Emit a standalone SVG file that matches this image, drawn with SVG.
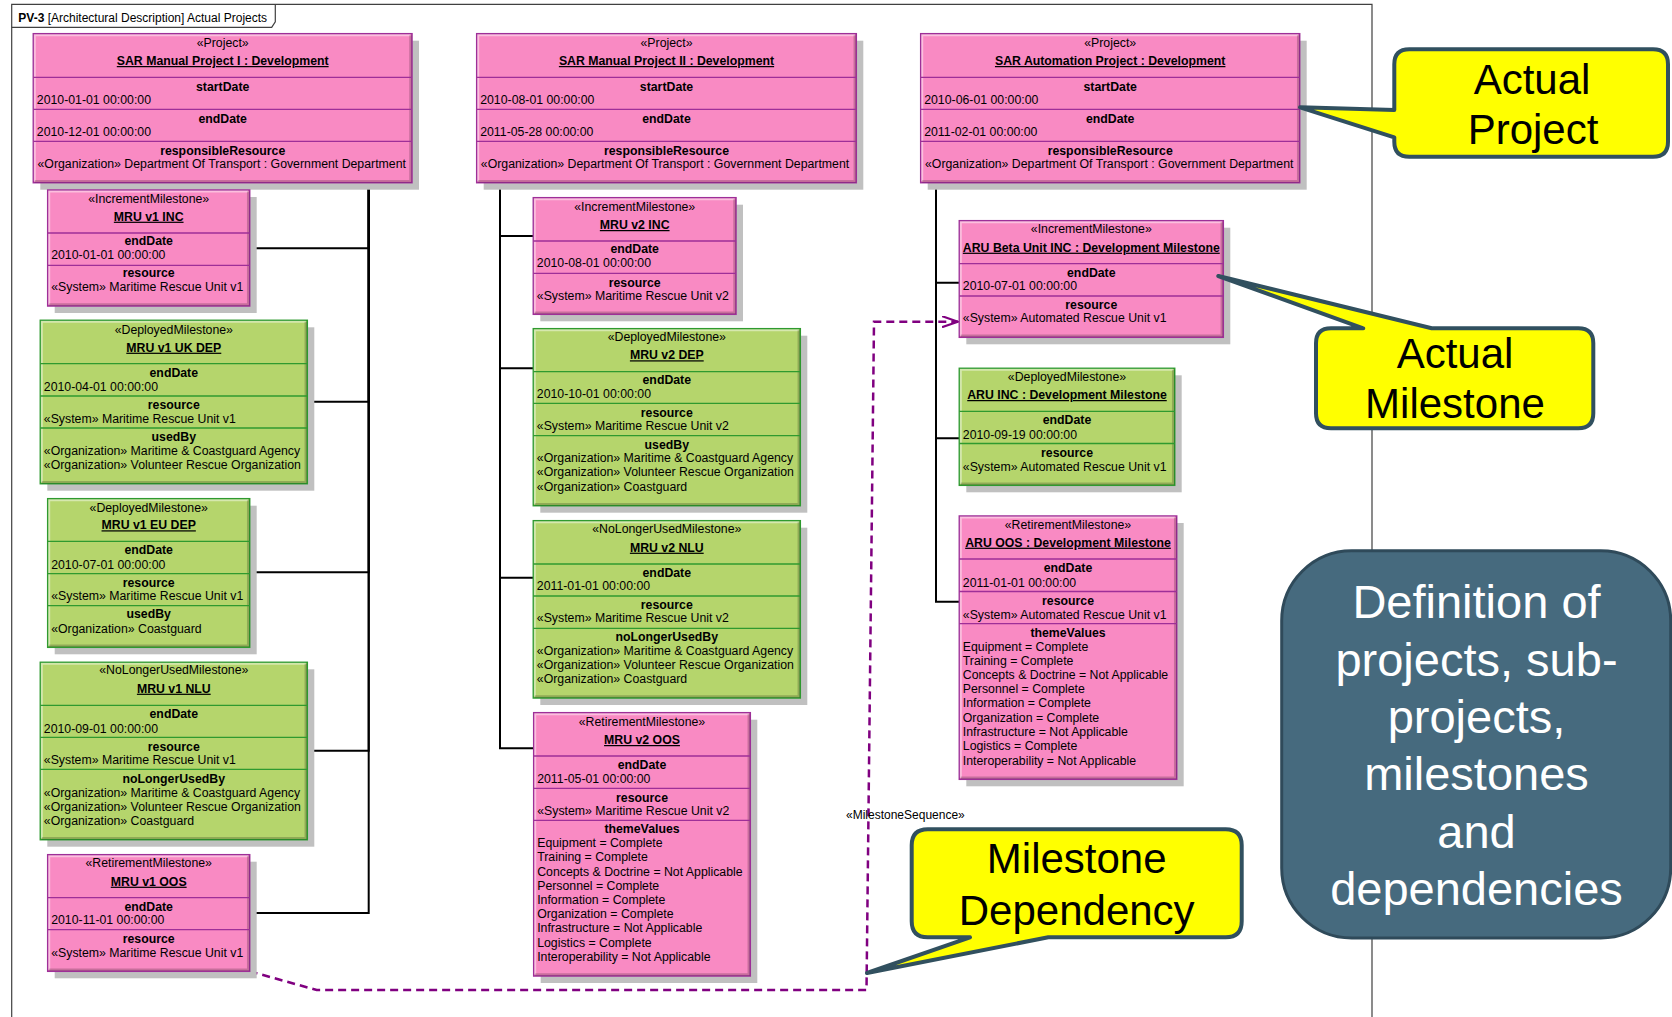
<svg xmlns="http://www.w3.org/2000/svg" width="1672" height="1017" viewBox="0 0 1672 1017">
<defs>
<style>
text{font-family:"Liberation Sans",Arial,sans-serif;font-size:12.3px;fill:#000}
.sd{fill:#C0C0C0}
.pk{fill:#F98AC3;stroke:#9E2F98;stroke-width:1.5}
.gr{fill:#B5D56C;stroke:#2F9A2F;stroke-width:1.5}
.spP{stroke:#9E2F98;stroke-width:1.3;fill:none}
.spG{stroke:#2F9A2F;stroke-width:1.3;fill:none}
.hl{fill:none;stroke:#fff;stroke-opacity:.45;stroke-width:2}
.dk{fill:none;stroke:#000;stroke-opacity:.2;stroke-width:2.5}
.s{text-anchor:middle}
.n{text-anchor:middle;font-weight:bold;text-decoration:underline}
.t{text-anchor:middle;font-weight:bold}
.con{fill:none;stroke:#000;stroke-width:2}
.dep{fill:none;stroke:#800080;stroke-width:2.5;stroke-dasharray:8 5}
.co{fill:#FFFF00;stroke:#31505F;stroke-width:4;stroke-linejoin:round}
.ct{font-size:42px;text-anchor:middle}
.dt{font-size:47px;text-anchor:middle;fill:#fff}
</style>
<marker id="open" viewBox="0 0 17 12" refX="16" refY="6" markerWidth="17" markerHeight="12" markerUnits="userSpaceOnUse" orient="auto">
<path d="M0,0.5 L16,6 L0,11.5" fill="none" stroke="#800080" stroke-width="2.2"/>
</marker>
</defs>
<rect x="0" y="0" width="1672" height="1017" fill="#fff"/>
<g id="frame">
<path d="M11.7,1017 V4.3 H1372 V1017" fill="none" stroke="#404040" stroke-width="1.2"/>
<path d="M11.7,27.3 H271.7 L275.3,21.7 V4.3" fill="none" stroke="#404040" stroke-width="1.2"/>
<text x="18.3" y="21.7" style="font-size:12px"><tspan font-weight="bold">PV-3</tspan> [Architectural Description] Actual Projects</text>
</g>

<g id="connectors">
<path class="con" d="M368.7,182.7 V248.3 H249.7"/>
<path class="con" d="M368.7,182.7 V401.7 H307.3"/>
<path class="con" d="M368.7,182.7 V572.3 H249.7"/>
<path class="con" d="M368.7,182.7 V750.7 H307.3"/>
<path class="con" d="M368.7,182.7 V913 H249.7"/>
<path class="con" d="M500,182.7 V236 H533.3"/>
<path class="con" d="M500,182.7 V368.3 H533.3"/>
<path class="con" d="M500,182.7 V577.7 H533.3"/>
<path class="con" d="M500,182.7 V748.3 H533.7"/>
<path class="con" d="M936,182.7 V282.7 H959.3"/>
<path class="con" d="M936,182.7 V438.3 H959.3"/>
<path class="con" d="M936,182.7 V601.7 H959.3"/>
<path class="dep" d="M249.7,971.3 L316.7,990 H866.5 L874,321.7 H958" marker-end="url(#open)"/>
<text x="846" y="819" style="font-size:12px">«MilestoneSequence»</text>
</g>

<g id="proj1">
<rect class="sd" x="40.3" y="40.7" width="378.7" height="149"/>
<rect class="pk" x="33.3" y="33.7" width="378.7" height="149"/>
<path class="hl" d="M34.8,181.2 V35.2 H410.5"/><path class="dk" d="M410.5,35.2 V181.2 H34.8"/>
<path class="spP" d="M33.3,77.3 H412 M33.3,109.3 H412 M33.3,141.3 H412"/>
<text class="s" x="222.7" y="46.7">«Project»</text>
<text class="n" x="222.7" y="65">SAR Manual Project I : Development</text>
<text class="t" x="222.7" y="90.7">startDate</text>
<text x="36.8" y="104.3">2010-01-01 00:00:00</text>
<text class="t" x="222.7" y="122.7">endDate</text>
<text x="36.8" y="136.3">2010-12-01 00:00:00</text>
<text class="t" x="222.7" y="154.7">responsibleResource</text>
<text x="37.5" y="168.3">«Organization» Department Of Transport : Government Department</text>
</g>

<g id="mru1inc">
<rect class="sd" x="54.7" y="197" width="202" height="116"/>
<rect class="pk" x="47.7" y="190" width="202" height="116"/>
<path class="hl" d="M49.2,304.5 V191.5 H248.2"/><path class="dk" d="M248.2,191.5 V304.5 H49.2"/>
<path class="spP" d="M47.7,233 H249.7 M47.7,265.3 H249.7"/>
<text class="s" x="148.7" y="202.7">«IncrementMilestone»</text>
<text class="n" x="148.7" y="220.7">MRU v1 INC</text>
<text class="t" x="148.7" y="245.3">endDate</text>
<text x="51.2" y="259">2010-01-01 00:00:00</text>
<text class="t" x="148.7" y="277.3">resource</text>
<text x="51.2" y="291">«System» Maritime Rescue Unit v1</text>
</g>

<g id="mru1ukdep">
<rect class="sd" x="47.3" y="327.3" width="267" height="163.4"/>
<rect class="gr" x="40.3" y="320.3" width="267" height="163.4"/>
<path class="hl" d="M41.8,482.2 V321.8 H305.8"/><path class="dk" d="M305.8,321.8 V482.2 H41.8"/>
<path class="spG" d="M40.3,363.7 H307.3 M40.3,396 H307.3 M40.3,428 H307.3"/>
<text class="s" x="173.8" y="334">«DeployedMilestone»</text>
<text class="n" x="173.8" y="351.7">MRU v1 UK DEP</text>
<text class="t" x="173.8" y="376.7">endDate</text>
<text x="43.8" y="390.7">2010-04-01 00:00:00</text>
<text class="t" x="173.8" y="408.7">resource</text>
<text x="43.8" y="422.7">«System» Maritime Rescue Unit v1</text>
<text class="t" x="173.8" y="440.7">usedBy</text>
<text x="43.8" y="454.7">«Organization» Maritime &amp; Coastguard Agency</text>
<text x="43.8" y="469">«Organization» Volunteer Rescue Organization</text>
</g>

<g id="mru1eudep">
<rect class="sd" x="54.7" y="505.7" width="202" height="148.6"/>
<rect class="gr" x="47.7" y="498.7" width="202" height="148.6"/>
<path class="hl" d="M49.2,645.8 V500.2 H248.2"/><path class="dk" d="M248.2,500.2 V645.8 H49.2"/>
<path class="spG" d="M47.7,541.3 H249.7 M47.7,573.7 H249.7 M47.7,605.7 H249.7"/>
<text class="s" x="148.7" y="511.7">«DeployedMilestone»</text>
<text class="n" x="148.7" y="529.3">MRU v1 EU DEP</text>
<text class="t" x="148.7" y="554.3">endDate</text>
<text x="51.2" y="568.7">2010-07-01 00:00:00</text>
<text class="t" x="148.7" y="586.7">resource</text>
<text x="51.2" y="600.3">«System» Maritime Rescue Unit v1</text>
<text class="t" x="148.7" y="618.3">usedBy</text>
<text x="51.2" y="632.7">«Organization» Coastguard</text>
</g>

<g id="mru1nlu">
<rect class="sd" x="47.3" y="669.3" width="267" height="177.4"/>
<rect class="gr" x="40.3" y="662.3" width="267" height="177.4"/>
<path class="hl" d="M41.8,838.2 V663.8 H305.8"/><path class="dk" d="M305.8,663.8 V838.2 H41.8"/>
<path class="spG" d="M40.3,705.3 H307.3 M40.3,737.3 H307.3 M40.3,769.3 H307.3"/>
<text class="s" x="173.8" y="674.3">«NoLongerUsedMilestone»</text>
<text class="n" x="173.8" y="692.7">MRU v1 NLU</text>
<text class="t" x="173.8" y="718.3">endDate</text>
<text x="43.8" y="732.7">2010-09-01 00:00:00</text>
<text class="t" x="173.8" y="750.7">resource</text>
<text x="43.8" y="764.3">«System» Maritime Rescue Unit v1</text>
<text class="t" x="173.8" y="782.7">noLongerUsedBy</text>
<text x="43.8" y="796.7">«Organization» Maritime &amp; Coastguard Agency</text>
<text x="43.8" y="810.7">«Organization» Volunteer Rescue Organization</text>
<text x="43.8" y="825.3">«Organization» Coastguard</text>
</g>

<g id="mru1oos">
<rect class="sd" x="54.7" y="861.7" width="202" height="116.6"/>
<rect class="pk" x="47.7" y="854.7" width="202" height="116.6"/>
<path class="hl" d="M49.2,969.8 V856.2 H248.2"/><path class="dk" d="M248.2,856.2 V969.8 H49.2"/>
<path class="spP" d="M47.7,897.7 H249.7 M47.7,929.7 H249.7"/>
<text class="s" x="148.7" y="867.3">«RetirementMilestone»</text>
<text class="n" x="148.7" y="885.7">MRU v1 OOS</text>
<text class="t" x="148.7" y="910.7">endDate</text>
<text x="51.2" y="924.3">2010-11-01 00:00:00</text>
<text class="t" x="148.7" y="942.7">resource</text>
<text x="51.2" y="956.7">«System» Maritime Rescue Unit v1</text>
</g>

<g id="proj2">
<rect class="sd" x="483.7" y="40.7" width="379.6" height="149"/>
<rect class="pk" x="476.7" y="33.7" width="379.6" height="149"/>
<path class="hl" d="M478.2,181.2 V35.2 H854.8"/><path class="dk" d="M854.8,35.2 V181.2 H478.2"/>
<path class="spP" d="M476.7,77.3 H856.3 M476.7,109.3 H856.3 M476.7,141.3 H856.3"/>
<text class="s" x="666.5" y="46.7">«Project»</text>
<text class="n" x="666.5" y="65">SAR Manual Project II : Development</text>
<text class="t" x="666.5" y="90.7">startDate</text>
<text x="480.2" y="104.3">2010-08-01 00:00:00</text>
<text class="t" x="666.5" y="122.7">endDate</text>
<text x="480.2" y="136.3">2011-05-28 00:00:00</text>
<text class="t" x="666.5" y="154.7">responsibleResource</text>
<text x="480.8" y="168.3">«Organization» Department Of Transport : Government Department</text>
</g>

<g id="mru2inc">
<rect class="sd" x="540.3" y="204.7" width="202.7" height="116.6"/>
<rect class="pk" x="533.3" y="197.7" width="202.7" height="116.6"/>
<path class="hl" d="M534.8,312.8 V199.2 H734.5"/><path class="dk" d="M734.5,199.2 V312.8 H534.8"/>
<path class="spP" d="M533.3,241 H736 M533.3,273.3 H736"/>
<text class="s" x="634.7" y="210.7">«IncrementMilestone»</text>
<text class="n" x="634.7" y="229">MRU v2 INC</text>
<text class="t" x="634.7" y="253.3">endDate</text>
<text x="536.8" y="267.3">2010-08-01 00:00:00</text>
<text class="t" x="634.7" y="286.7">resource</text>
<text x="536.8" y="300">«System» Maritime Rescue Unit v2</text>
</g>

<g id="mru2dep">
<rect class="sd" x="540.3" y="335.7" width="267" height="177"/>
<rect class="gr" x="533.3" y="328.7" width="267" height="177"/>
<path class="hl" d="M534.8,504.2 V330.2 H798.8"/><path class="dk" d="M798.8,330.2 V504.2 H534.8"/>
<path class="spG" d="M533.3,371.7 H800.3 M533.3,403.3 H800.3 M533.3,435.7 H800.3"/>
<text class="s" x="666.8" y="341">«DeployedMilestone»</text>
<text class="n" x="666.8" y="359.3">MRU v2 DEP</text>
<text class="t" x="666.8" y="384.3">endDate</text>
<text x="536.8" y="398.3">2010-10-01 00:00:00</text>
<text class="t" x="666.8" y="416.7">resource</text>
<text x="536.8" y="430.3">«System» Maritime Rescue Unit v2</text>
<text class="t" x="666.8" y="448.7">usedBy</text>
<text x="536.8" y="462.3">«Organization» Maritime &amp; Coastguard Agency</text>
<text x="536.8" y="476.3">«Organization» Volunteer Rescue Organization</text>
<text x="536.8" y="491">«Organization» Coastguard</text>
</g>

<g id="mru2nlu">
<rect class="sd" x="540.3" y="527.7" width="267" height="177.3"/>
<rect class="gr" x="533.3" y="520.7" width="267" height="177.3"/>
<path class="hl" d="M534.8,696.5 V522.2 H798.8"/><path class="dk" d="M798.8,522.2 V696.5 H534.8"/>
<path class="spG" d="M533.3,564 H800.3 M533.3,596 H800.3 M533.3,628.3 H800.3"/>
<text class="s" x="666.8" y="533.3">«NoLongerUsedMilestone»</text>
<text class="n" x="666.8" y="551.7">MRU v2 NLU</text>
<text class="t" x="666.8" y="576.7">endDate</text>
<text x="536.8" y="590.3">2011-01-01 00:00:00</text>
<text class="t" x="666.8" y="608.7">resource</text>
<text x="536.8" y="622.3">«System» Maritime Rescue Unit v2</text>
<text class="t" x="666.8" y="640.7">noLongerUsedBy</text>
<text x="536.8" y="654.7">«Organization» Maritime &amp; Coastguard Agency</text>
<text x="536.8" y="669">«Organization» Volunteer Rescue Organization</text>
<text x="536.8" y="683.3">«Organization» Coastguard</text>
</g>

<g id="mru2oos">
<rect class="sd" x="540.7" y="719.7" width="216.6" height="263.3"/>
<rect class="pk" x="533.7" y="712.7" width="216.6" height="263.3"/>
<path class="hl" d="M535.2,974.5 V714.2 H748.8"/><path class="dk" d="M748.8,714.2 V974.5 H535.2"/>
<path class="spP" d="M533.7,756 H750.3 M533.7,788.3 H750.3 M533.7,820.3 H750.3"/>
<text class="s" x="642" y="726">«RetirementMilestone»</text>
<text class="n" x="642" y="744">MRU v2 OOS</text>
<text class="t" x="642" y="769.3">endDate</text>
<text x="537.2" y="783.3">2011-05-01 00:00:00</text>
<text class="t" x="642" y="801.7">resource</text>
<text x="537.2" y="815.3">«System» Maritime Rescue Unit v2</text>
<text class="t" x="642" y="833.3">themeValues</text>
<text x="537.2" y="847">Equipment = Complete</text>
<text x="537.2" y="861">Training = Complete</text>
<text x="537.2" y="875.7">Concepts &amp; Doctrine = Not Applicable</text>
<text x="537.2" y="889.7">Personnel = Complete</text>
<text x="537.2" y="904">Information = Complete</text>
<text x="537.2" y="918">Organization = Complete</text>
<text x="537.2" y="932.3">Infrastructure = Not Applicable</text>
<text x="537.2" y="946.7">Logistics = Complete</text>
<text x="537.2" y="961">Interoperability = Not Applicable</text>
</g>

<g id="proj3">
<rect class="sd" x="927.7" y="40.7" width="379" height="149"/>
<rect class="pk" x="920.7" y="33.7" width="379" height="149"/>
<path class="hl" d="M922.2,181.2 V35.2 H1298.2"/><path class="dk" d="M1298.2,35.2 V181.2 H922.2"/>
<path class="spP" d="M920.7,77.3 H1299.7 M920.7,109.3 H1299.7 M920.7,141.3 H1299.7"/>
<text class="s" x="1110.2" y="46.7">«Project»</text>
<text class="n" x="1110.2" y="65">SAR Automation Project : Development</text>
<text class="t" x="1110.2" y="90.7">startDate</text>
<text x="924.2" y="104.3">2010-06-01 00:00:00</text>
<text class="t" x="1110.2" y="122.7">endDate</text>
<text x="924.2" y="136.3">2011-02-01 00:00:00</text>
<text class="t" x="1110.2" y="154.7">responsibleResource</text>
<text x="925" y="168.3">«Organization» Department Of Transport : Government Department</text>
</g>

<g id="arubetainc">
<rect class="sd" x="966.3" y="227.7" width="264" height="116.6"/>
<rect class="pk" x="959.3" y="220.7" width="264" height="116.6"/>
<path class="hl" d="M960.8,335.8 V222.2 H1221.8"/><path class="dk" d="M1221.8,222.2 V335.8 H960.8"/>
<path class="spP" d="M959.3,263.7 H1223.3 M959.3,296 H1223.3"/>
<text class="s" x="1091.3" y="233.3">«IncrementMilestone»</text>
<text class="n" x="1091.3" y="251.7">ARU Beta Unit INC : Development Milestone</text>
<text class="t" x="1091.3" y="276.7">endDate</text>
<text x="962.8" y="290.3">2010-07-01 00:00:00</text>
<text class="t" x="1091.3" y="308.7">resource</text>
<text x="962.8" y="322.3">«System» Automated Rescue Unit v1</text>
</g>

<g id="aruinc">
<rect class="sd" x="966.3" y="375.3" width="215.4" height="117"/>
<rect class="gr" x="959.3" y="368.3" width="215.4" height="117"/>
<path class="hl" d="M960.8,483.8 V369.8 H1173.2"/><path class="dk" d="M1173.2,369.8 V483.8 H960.8"/>
<path class="spG" d="M959.3,411.3 H1174.7 M959.3,443.5 H1174.7"/>
<text class="s" x="1067" y="380.7">«DeployedMilestone»</text>
<text class="n" x="1067" y="399">ARU INC : Development Milestone</text>
<text class="t" x="1067" y="424.3">endDate</text>
<text x="962.8" y="438.7">2010-09-19 00:00:00</text>
<text class="t" x="1067" y="456.7">resource</text>
<text x="962.8" y="470.7">«System» Automated Rescue Unit v1</text>
</g>

<g id="aruoos">
<rect class="sd" x="966.3" y="523" width="217.4" height="263.3"/>
<rect class="pk" x="959.3" y="516" width="217.4" height="263.3"/>
<path class="hl" d="M960.8,777.8 V517.5 H1175.2"/><path class="dk" d="M1175.2,517.5 V777.8 H960.8"/>
<path class="spP" d="M959.3,559 H1176.7 M959.3,591.5 H1176.7 M959.3,623.7 H1176.7"/>
<text class="s" x="1068" y="528.7">«RetirementMilestone»</text>
<text class="n" x="1068" y="546.7">ARU OOS : Development Milestone</text>
<text class="t" x="1068" y="572.3">endDate</text>
<text x="962.8" y="586.7">2011-01-01 00:00:00</text>
<text class="t" x="1068" y="604.7">resource</text>
<text x="962.8" y="618.7">«System» Automated Rescue Unit v1</text>
<text class="t" x="1068" y="636.7">themeValues</text>
<text x="962.8" y="650.7">Equipment = Complete</text>
<text x="962.8" y="664.7">Training = Complete</text>
<text x="962.8" y="678.7">Concepts &amp; Doctrine = Not Applicable</text>
<text x="962.8" y="693.3">Personnel = Complete</text>
<text x="962.8" y="707.3">Information = Complete</text>
<text x="962.8" y="721.7">Organization = Complete</text>
<text x="962.8" y="736">Infrastructure = Not Applicable</text>
<text x="962.8" y="750.3">Logistics = Complete</text>
<text x="962.8" y="764.7">Interoperability = Not Applicable</text>
</g>

<g id="callout-actual-project">
<path class="co" d="M1409.3,49.3 H1653 Q1668,49.3 1668,64.3 V141.7 Q1668,156.7 1653,156.7 H1409.3 Q1394.3,156.7 1394.3,141.7 V137.3 L1300,107.3 L1394.3,110 V64.3 Q1394.3,49.3 1409.3,49.3 Z"/>
<text class="ct" x="1532" y="94">Actual</text>
<text class="ct" x="1533" y="144">Project</text>
</g>

<g id="callout-actual-milestone">
<path class="co" d="M1331,328.3 H1363.3 L1218.3,276 L1431.7,328.3 H1578.3 Q1593.3,328.3 1593.3,343.3 V413.3 Q1593.3,428.3 1578.3,428.3 H1331 Q1316,428.3 1316,413.3 V343.3 Q1316,328.3 1331,328.3 Z"/>
<text class="ct" x="1455" y="368.3">Actual</text>
<text class="ct" x="1455" y="418.3">Milestone</text>
</g>

<g id="callout-milestone-dependency">
<path class="co" d="M927.7,829.3 H1225.7 Q1241.7,829.3 1241.7,845.3 V921.3 Q1241.7,937.3 1225.7,937.3 H1048.3 L867,973 L970,937.3 H927.7 Q911.7,937.3 911.7,921.3 V845.3 Q911.7,829.3 927.7,829.3 Z"/>
<text class="ct" x="1076.7" y="873.3">Milestone</text>
<text class="ct" x="1076.7" y="925">Dependency</text>
</g>

<g id="definition-box">
<rect x="1281.7" y="550.7" width="389" height="387.3" rx="70" ry="70" fill="#466A7E" stroke="#2F4A5A" stroke-width="3"/>
<text class="dt" x="1476.5" y="618.3">Definition of</text>
<text class="dt" x="1476.5" y="675.6">projects, sub-</text>
<text class="dt" x="1476.5" y="732.9">projects,</text>
<text class="dt" x="1476.5" y="790.2">milestones</text>
<text class="dt" x="1476.5" y="847.5">and</text>
<text class="dt" x="1476.5" y="904.8">dependencies</text>
</g>
</svg>
